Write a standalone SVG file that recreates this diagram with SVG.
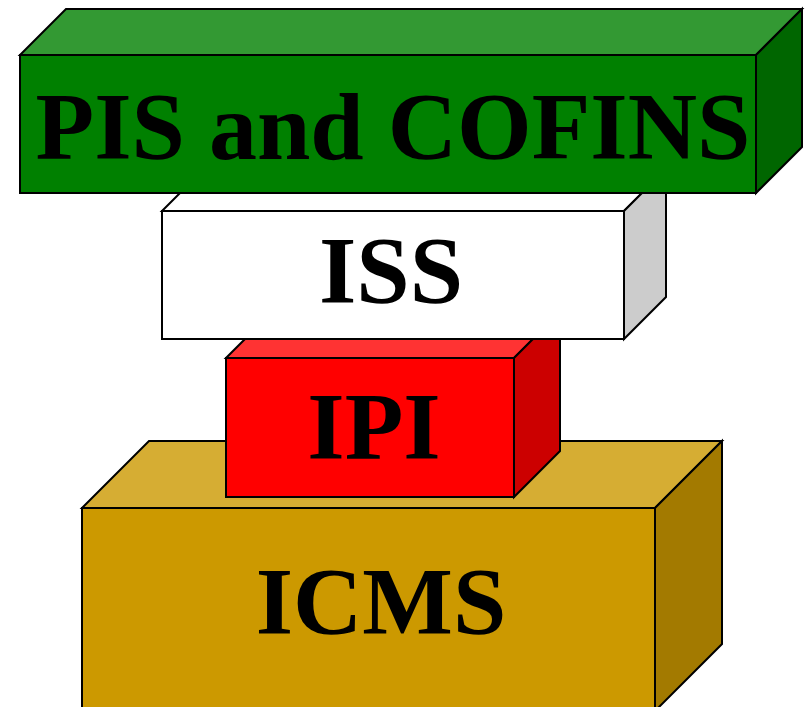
<svg xmlns="http://www.w3.org/2000/svg" width="808" height="707" viewBox="0 0 808 707">
  <style>
    .edge { stroke: #000; stroke-width: 2; stroke-linejoin: miter; }
    .label { font-family: "Liberation Serif", "Times New Roman", serif; font-weight: bold; font-size: 96px; fill: #000; text-anchor: middle; }
  </style>
  <rect width="808" height="707" fill="#fff"/>

  <!-- bottom block -->
  <g id="icms">
    <polygon class="edge" fill="#d6ad33" points="82,508 149,441 722,441 655,508"/>
    <polygon class="edge" fill="#a37a00" points="655,508 722,441 722,644 655,711"/>
    <rect class="edge" fill="#cc9900" x="82" y="508" width="573" height="210"/>
    <text class="label" x="381" y="634">ICMS</text>
  </g>

  <g id="ipi">
    <polygon class="edge" fill="#ff3333" points="226,358 272,312 560,312 514,358"/>
    <polygon class="edge" fill="#cc0000" points="514,358 560,312 560,451 514,497"/>
    <rect class="edge" fill="#ff0000" x="226" y="358" width="288" height="139"/>
    <text class="label" x="374" y="459">IPI</text>
  </g>

  <g id="iss">
    <polygon class="edge" fill="#ffffff" points="162,211 204,169 666,169 624,211"/>
    <polygon class="edge" fill="#cccccc" points="624,211 666,169 666,297 624,339"/>
    <rect class="edge" fill="#ffffff" x="162" y="211" width="462" height="128"/>
    <text class="label" x="391" y="303">ISS</text>
  </g>

  <!-- top block -->
  <g id="pis-cofins">
    <polygon class="edge" fill="#339933" points="20,55 66,9 802,9 756,55"/>
    <polygon class="edge" fill="#006600" points="756,55 802,9 802,147 756,193"/>
    <rect class="edge" fill="#008000" x="20" y="55" width="736" height="138"/>
    <text class="label" x="393" y="159">PIS and COFINS</text>
  </g>
</svg>
